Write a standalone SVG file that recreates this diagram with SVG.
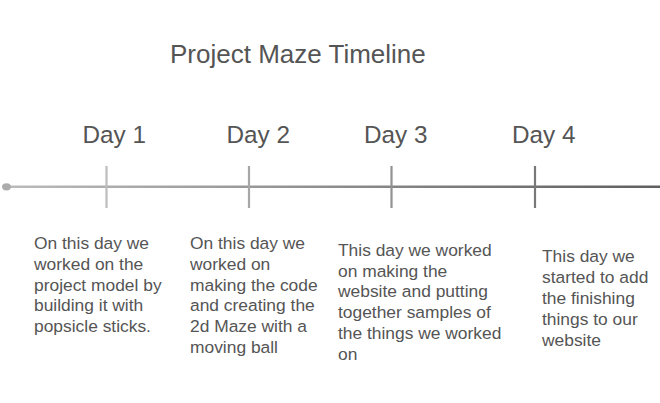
<svg xmlns="http://www.w3.org/2000/svg" width="660" height="403" viewBox="0 0 660 403">
<style>
text{font-family:"Liberation Sans",Arial,sans-serif;fill:#555555}
.title{font-size:26px}
.day{font-size:24.3px}
.body{font-size:17.4px}
.tick{stroke-width:2.2;fill:none}
</style>
<defs>
<linearGradient id="lg" x1="0" y1="0" x2="660" y2="0" gradientUnits="userSpaceOnUse">
<stop offset="0" stop-color="#bcbcbc"/>
<stop offset="1" stop-color="#5f5f5f"/>
</linearGradient>
</defs>
<rect width="660" height="403" fill="#ffffff"/>
<text class="title" x="170" y="63">Project Maze Timeline</text>
<g id="connectors">
<line x1="6" y1="186.8" x2="660" y2="186.8" stroke="url(#lg)" stroke-width="2.6"/>
<ellipse cx="6.5" cy="186.8" rx="4.5" ry="3.6" fill="#acacac"/>
</g>
<g id="day1">
<line class="tick" x1="106.5" y1="166" x2="106.5" y2="208" stroke="#bdbdbd"/>
<text class="day" x="82.5" y="143.3">Day 1</text>
<text class="body" x="34"><tspan x="34" y="249">On this day we</tspan><tspan x="34" y="269.8">worked on the</tspan><tspan x="34" y="290.6">project model by</tspan><tspan x="34" y="311.4">building it with</tspan><tspan x="34" y="332.2">popsicle sticks.</tspan></text>
</g>
<g id="day2">
<line class="tick" x1="249" y1="166" x2="249" y2="208" stroke="#a7a7a7"/>
<text class="day" x="226.5" y="143.3">Day 2</text>
<text class="body" x="190"><tspan x="190" y="249">On this day we</tspan><tspan x="190" y="269.8">worked on</tspan><tspan x="190" y="290.6">making the code</tspan><tspan x="190" y="311.4">and creating the</tspan><tspan x="190" y="332.2">2d Maze with a</tspan><tspan x="190" y="353">moving ball</tspan></text>
</g>
<g id="day3">
<line class="tick" x1="391.5" y1="166" x2="391.5" y2="208" stroke="#929292"/>
<text class="day" x="364" y="143.3">Day 3</text>
<text class="body" x="338"><tspan x="338" y="255.7">This day we worked</tspan><tspan x="338" y="276.5">on making the</tspan><tspan x="338" y="297.3">website and putting</tspan><tspan x="338" y="318.1">together samples of</tspan><tspan x="338" y="338.9">the things we worked</tspan><tspan x="338" y="359.7">on</tspan></text>
</g>
<g id="day4">
<line class="tick" x1="535" y1="166" x2="535" y2="208" stroke="#787878"/>
<text class="day" x="512" y="143.3">Day 4</text>
<text class="body" x="542"><tspan x="542" y="262.3">This day we</tspan><tspan x="542" y="283.1">started to add</tspan><tspan x="542" y="303.9">the finishing</tspan><tspan x="542" y="324.7">things to our</tspan><tspan x="542" y="345.5">website</tspan></text>
</g>
</svg>
